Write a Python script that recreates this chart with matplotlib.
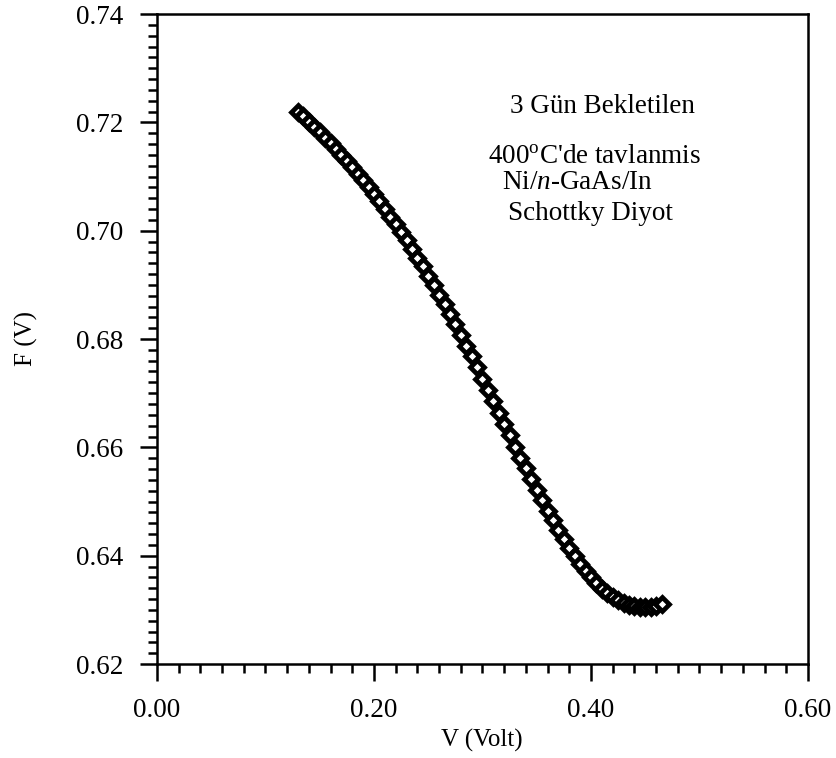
import matplotlib
matplotlib.use("Agg")
import matplotlib.pyplot as plt
from matplotlib.ticker import MultipleLocator, FormatStrFormatter

# V (Volt) and F (V)
v_volt = [0.130, 0.135, 0.140, 0.145, 0.150, 0.155, 0.160, 0.165, 0.170, 0.175,
          0.180, 0.185, 0.190, 0.195, 0.200, 0.205, 0.210, 0.215, 0.220, 0.225,
          0.230, 0.235, 0.240, 0.245, 0.250, 0.255, 0.260, 0.265, 0.270, 0.275,
          0.280, 0.285, 0.290, 0.295, 0.300, 0.305, 0.310, 0.315, 0.320, 0.325,
          0.330, 0.335, 0.340, 0.345, 0.350, 0.355, 0.360, 0.365, 0.370, 0.375,
          0.380, 0.385, 0.390, 0.395, 0.400, 0.405, 0.410, 0.415, 0.420, 0.425,
          0.430, 0.435, 0.440, 0.445, 0.450, 0.455, 0.460, 0.465]
f_v = [0.7220, 0.7211, 0.7201, 0.7192, 0.7182, 0.7172, 0.7161, 0.7151, 0.7140, 0.7128,
       0.7117, 0.7105, 0.7093, 0.7080, 0.7067, 0.7054, 0.7040, 0.7026, 0.7012, 0.6997,
       0.6982, 0.6966, 0.6950, 0.6934, 0.6917, 0.6900, 0.6882, 0.6864, 0.6846, 0.6827,
       0.6808, 0.6788, 0.6768, 0.6748, 0.6727, 0.6706, 0.6685, 0.6664, 0.6643, 0.6622,
       0.6601, 0.6581, 0.6561, 0.6541, 0.6521, 0.6502, 0.6483, 0.6465, 0.6447, 0.6430,
       0.6414, 0.6399, 0.6385, 0.6372, 0.6360, 0.6349, 0.6339, 0.6331, 0.6324, 0.6318,
       0.6313, 0.6309, 0.6307, 0.6305, 0.6305, 0.6306, 0.6308, 0.6311]

plt.rcParams['font.family'] = ['Liberation Serif', 'DejaVu Serif']
plt.rcParams['mathtext.fontset'] = 'custom'
plt.rcParams['mathtext.rm'] = 'Liberation Serif'
plt.rcParams['mathtext.it'] = 'Liberation Serif:italic'

W, H = 837, 758
fig = plt.figure(figsize=(W / 100, H / 100), dpi=100)
ax = fig.add_axes([157 / W, 1 - 664 / H, (808 - 157) / W, (664 - 14) / H])

ax.plot(v_volt, f_v, linestyle='none', marker='D', markersize=7,
        markerfacecolor='white', markeredgecolor='black', markeredgewidth=3.4)

ax.set_xlim(0.0, 0.6)
ax.set_ylim(0.62, 0.74)
ax.xaxis.set_major_locator(MultipleLocator(0.2))
ax.xaxis.set_minor_locator(MultipleLocator(0.02))
ax.yaxis.set_major_locator(MultipleLocator(0.02))
ax.yaxis.set_minor_locator(MultipleLocator(0.002))
ax.xaxis.set_major_formatter(FormatStrFormatter('%.2f'))
ax.yaxis.set_major_formatter(FormatStrFormatter('%.2f'))

for s in ax.spines.values():
    s.set_linewidth(1.8)
ax.tick_params(which='major', direction='out', length=12.5, width=1.8,
               labelsize=19.5, pad=12)
ax.tick_params(which='minor', direction='out', length=6.5, width=1.8)
ax.tick_params(top=False, right=False)

fig.text(482 / W, 1 - 740 / H, 'V (Volt)', ha='center', va='center', fontsize=18)
fig.text(26 / W, 1 - 339 / H, 'F (V)', ha='center', va='center', fontsize=18,
         rotation=90)

fig.text(510 / W, 1 - 113 / H, '3 Gün Bekletilen', ha='left', va='baseline',
         fontsize=19.5)
fig.text(488 / W, 1 - 163 / H, "400$^{\\mathrm{o}}$C'de tavlanmis", ha='left',
         va='baseline', fontsize=19.5)
fig.text(502 / W, 1 - 189 / H, 'Ni/$n$-GaAs/In', ha='left', va='baseline',
         fontsize=19.5)
fig.text(508 / W, 1 - 220 / H, 'Schottky Diyot', ha='left', va='baseline',
         fontsize=19.5)

fig.savefig('out.png', dpi=100)
